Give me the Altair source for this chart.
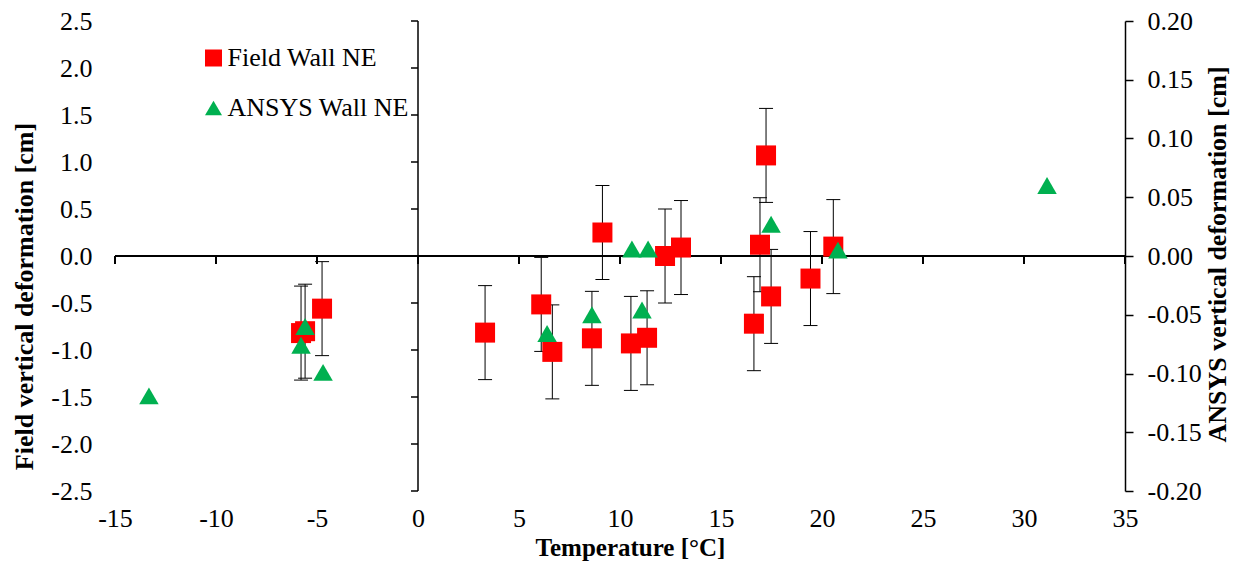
import altair as alt
import pandas as pd

# ---- data ----
field_temp = [-5.79, -5.59, -4.75, 3.32, 6.10, 6.65, 8.61, 9.13, 10.54, 11.34,
              12.23, 13.02, 16.63, 16.93, 17.23, 17.48, 19.43, 20.56]
field_def = [-0.82, -0.80, -0.56, -0.815, -0.515, -1.02, -0.876, 0.25, -0.93, -0.87,
             0.00, 0.09, -0.72, 0.12, 1.07, -0.43, -0.24, 0.10]
field_err = [0.5, 0.5, 0.5, 0.5, 0.5, 0.5, 0.5, 0.5, 0.5, 0.5,
             0.5, 0.5, 0.5, 0.5, 0.5, 0.5, 0.5, 0.5]

ansys_temp = [-13.32, -5.59, -5.79, -4.70, 6.39, 8.61, 10.59, 11.09, 11.39, 17.48, 20.79, 31.14]
ansys_def = [-0.119, -0.060, -0.076, -0.099, -0.066, -0.050, 0.006, -0.046, 0.006, 0.027, 0.005, 0.060]

x_ticks = [-15, -10, -5, 0, 5, 10, 15, 20, 25, 30, 35]
y_ticks = [-2.5, -2.0, -1.5, -1.0, -0.5, 0.0, 0.5, 1.0, 1.5, 2.0, 2.5]
r_ticks = [-0.20, -0.15, -0.10, -0.05, 0.00, 0.05, 0.10, 0.15, 0.20]

series_names = ["Field Wall NE", "ANSYS Wall NE"]
series_colors = ["#FF0000", "#00B050"]
series_shapes = ["square", "triangle-up"]

FONT = "Liberation Serif"
FS = 26
W, H = 1010, 470

field_df = pd.DataFrame({
    "t": field_temp, "d": field_def,
    "lo": [v - e for v, e in zip(field_def, field_err)],
    "hi": [v + e for v, e in zip(field_def, field_err)],
    "series": series_names[0],
})
ansys_df = pd.DataFrame({"t": ansys_temp, "d": ansys_def, "series": series_names[1]})
hline_df = pd.DataFrame({"x": [x_ticks[0]], "x2": [x_ticks[-1]], "y": [0.0]})
vline_df = pd.DataFrame({"y": [y_ticks[0]], "y2": [y_ticks[-1]], "x": [0.0]})
xt_df = pd.DataFrame({"t": x_ticks, "z": [0.0] * len(x_ticks)})
yt_df = pd.DataFrame({"t": y_ticks, "z": [0.0] * len(y_ticks)})

minus_fix = "replace(datum.label, '\u2212', '-')"

xs = alt.Scale(domain=[x_ticks[0], x_ticks[-1]], nice=False, zero=False)
ys = alt.Scale(domain=[y_ticks[0], y_ticks[-1]], nice=False, zero=False)
rs = alt.Scale(domain=[r_ticks[0], r_ticks[-1]], nice=False, zero=False)

x_axis = alt.Axis(
    title="Temperature [°C]", values=x_ticks, format="d", labelExpr=minus_fix,
    domain=False, ticks=False, tickSize=0, grid=False,
    labelFont=FONT, labelFontSize=FS, labelColor="black", labelPadding=35,
    labelBaseline="alphabetic", labelFlush=False, labelOverlap=False,
    titleFont=FONT, titleFontSize=25, titleFontWeight="bold", titleColor="black",
    titleX=515, titleY=64, titleAlign="center", titleBaseline="alphabetic",
)
y_axis = alt.Axis(
    title="Field vertical deformation [cm]", values=y_ticks, format=".1f", labelExpr=minus_fix,
    domain=False, ticks=False, tickSize=0, grid=False,
    labelFont=FONT, labelFontSize=FS, labelColor="black", labelPadding=23,
    labelBaseline="middle", labelFlush=False, labelOverlap=False,
    titleFont=FONT, titleFontSize=26, titleFontWeight="bold", titleColor="black",
    titleAngle=270, titleX=-91, titleY=275, titleAlign="center", titleBaseline="middle",
)
r_axis = alt.Axis(
    title="ANSYS vertical deformation [cm]", orient="right", values=r_ticks, format=".2f",
    labelExpr=minus_fix, domain=True, domainColor="black", domainWidth=1.5,
    ticks=True, tickSize=8, tickColor="black", tickWidth=1.5, grid=False,
    labelFont=FONT, labelFontSize=FS, labelColor="black", labelPadding=14,
    labelBaseline="middle", labelAlign="left", labelFlush=False, labelOverlap=False,
    titleFont=FONT, titleFontSize=26, titleFontWeight="bold", titleColor="black",
    titleAngle=270, titleX=92, titleY=233, titleAlign="center", titleBaseline="middle",
)

legend = alt.Legend(
    title=None, orient="none", legendX=85.5, legendY=24, padding=0,
    labelFont=FONT, labelFontSize=26, labelColor="black", labelOffset=1, labelLimit=400,
    symbolSize=289, symbolStrokeWidth=0, symbolOpacity=1, rowPadding=24,
)
color_enc = alt.Color("series:N", scale=alt.Scale(domain=series_names, range=series_colors),
                      legend=legend)
shape_enc = alt.Shape("series:N", scale=alt.Scale(domain=series_names, range=series_shapes),
                      legend=legend)

# crossing axis lines
h_line = alt.Chart(hline_df).mark_rule(color="black", strokeWidth=2).encode(
    x=alt.X("x:Q", scale=xs, axis=x_axis), x2="x2:Q",
    y=alt.Y("y:Q", scale=ys, axis=y_axis),
)
v_line = alt.Chart(vline_df).mark_rule(color="black", strokeWidth=1.5).encode(
    x=alt.X("x:Q", scale=xs, axis=x_axis),
    y=alt.Y("y:Q", scale=ys, axis=y_axis), y2="y2:Q",
)
x_tick_marks = alt.Chart(xt_df).mark_rule(color="black", strokeWidth=2, y2Offset=8).encode(
    x=alt.X("t:Q", scale=xs, axis=x_axis),
    y=alt.Y("z:Q", scale=ys, axis=y_axis), y2="z:Q",
)
y_tick_marks = alt.Chart(yt_df).mark_rule(color="black", strokeWidth=1.5, x2Offset=-7).encode(
    y=alt.Y("t:Q", scale=ys, axis=y_axis),
    x=alt.X("z:Q", scale=xs, axis=x_axis), x2="z:Q",
)

# error bars
err_v = alt.Chart(field_df).mark_rule(color="black", strokeWidth=1).encode(
    x=alt.X("t:Q", scale=xs, axis=x_axis),
    y=alt.Y("lo:Q", scale=ys, axis=y_axis), y2="hi:Q",
)
cap_lo = alt.Chart(field_df).mark_rule(color="black", strokeWidth=1, xOffset=-7, x2Offset=7).encode(
    x=alt.X("t:Q", scale=xs, axis=x_axis), x2="t:Q",
    y=alt.Y("lo:Q", scale=ys, axis=y_axis),
)
cap_hi = alt.Chart(field_df).mark_rule(color="black", strokeWidth=1, xOffset=-7, x2Offset=7).encode(
    x=alt.X("t:Q", scale=xs, axis=x_axis), x2="t:Q",
    y=alt.Y("hi:Q", scale=ys, axis=y_axis),
)

field_pts = alt.Chart(field_df).mark_point(filled=True, opacity=1, size=400).encode(
    x=alt.X("t:Q", scale=xs, axis=x_axis),
    y=alt.Y("d:Q", scale=ys, axis=y_axis),
    color=color_enc, shape=shape_enc,
)

left = alt.layer(h_line, v_line, x_tick_marks, y_tick_marks, err_v, cap_lo, cap_hi, field_pts)

ansys_pts = alt.Chart(ansys_df).mark_point(filled=True, opacity=1, size=380).encode(
    x=alt.X("t:Q", scale=xs, axis=x_axis),
    y=alt.Y("d:Q", scale=rs, axis=r_axis),
    color=color_enc, shape=shape_enc,
)

chart = alt.layer(left, ansys_pts).resolve_scale(y="independent").properties(
    width=W, height=H,
    autosize=alt.AutoSizeParams(type="none"),
    padding={"left": 107, "top": 13, "right": 107, "bottom": 79},
    background="white",
).configure(
    font=FONT,
    style={
        "guide-label": {"font": FONT, "fontSize": FS, "fill": "black"},
        "guide-title": {"font": FONT, "fill": "black"},
    },
).configure_axis(
    labelFont=FONT, titleFont=FONT,
).configure_legend(
    labelFont=FONT, labelLimit=400,
).configure_view(stroke=None)

chart.save("out.html", embed_options={"renderer": "svg", "actions": False})
